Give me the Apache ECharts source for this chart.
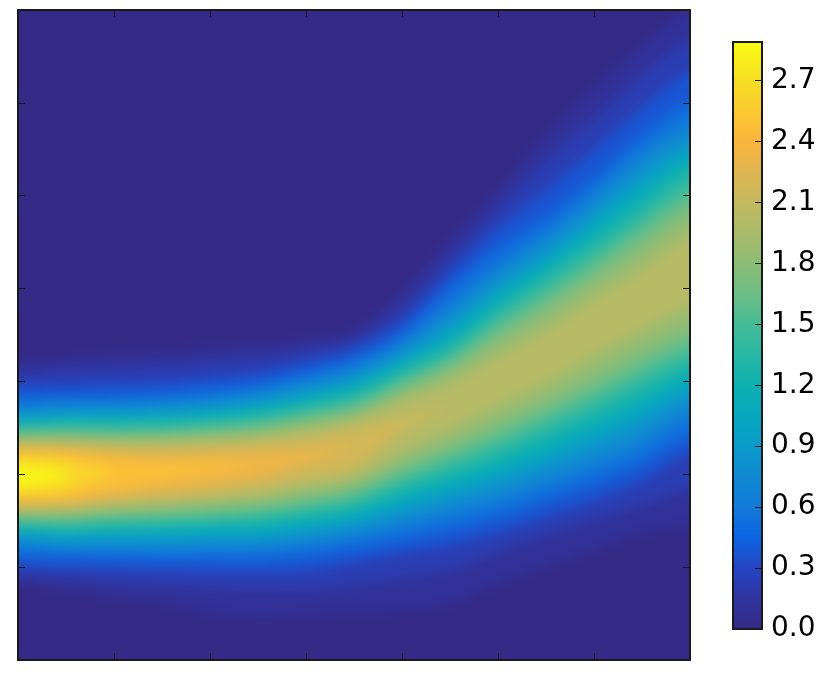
<!DOCTYPE html>
<html><head><meta charset="utf-8">
<style>
html,body{margin:0;padding:0;background:#fff}
#c{position:absolute;left:0;top:0;width:831px;height:680px}
#fieldClip{position:absolute;left:18px;top:10px;width:672px;height:650px;overflow:hidden}
#field{position:absolute;left:-60px;top:-60px;width:792px;height:770px;filter:blur(6px)}
</style>
<script src="https://cdn.jsdelivr.net/npm/echarts@6/dist/echarts.min.js"></script>
</head><body>
<div id="fieldClip"><div id="field"></div></div>
<div id="c"></div>
<script>
// contour levels of the plotted field
const levels = [0.07,0.15,0.3,0.45,0.6,0.75,0.9,1.05,1.2,1.35,1.5,1.65,1.8,1.95,2.1,2.25,2.4,2.55,2.7,2.8];
const columnsX = [0,48,96,144,192,240,288,336,384,432,480,528,576,624,672];
const _ = null;
// upper edge of each level's region, one row per column
const upperEdge = [
[352,364,376,387,395,400,405,409,413,417,420,424,427,430,434,438,442,446,451,456],
[348,360,375,386,392,398,403,407,411,415,419,423,427,430,435,439,443,449,457,465],
[345,358,374,385,392,397,403,407,411,416,420,424,428,432,437,442,448,463,_,_],
[342,356,372,383,390,396,401,406,410,415,419,423,428,432,438,444,453,_,_,_],
[339,352,368,379,387,392,398,403,407,412,416,421,425,430,436,443,453,_,_,_],
[335,348,363,373,380,386,392,397,402,407,412,417,422,427,433,442,454,_,_,_],
[330,340,352,362,369,376,382,388,393,398,403,408,414,420,428,440,_,_,_,_],
[321,329,339,348,356,363,369,375,381,387,392,398,404,410,419,437,_,_,_,_],
[282,298,312,323,331,339,346,352,358,364,370,376,383,391,408,_,_,_,_,_],
[230,248,263,278,293,305,315,325,333,340,347,354,362,373,396,_,_,_,_,_],
[180,198,218,238,254,266,276,285,295,303,312,322,333,347,_,_,_,_,_,_],
[125,150,180,207,221,233,244,254,261,271,281,292,304,320,_,_,_,_,_,_],
[78,108,140,168,182,194,206,216,227,238,249,260,273,289,_,_,_,_,_,_],
[35,65,98,125,140,154,167,179,190,203,214,226,241,259,_,_,_,_,_,_],
[0,30,62,92,110,125,137,147,156,168,181,194,209,227,_,_,_,_,_,_]
];
// lower edge of each level's region
const lowerEdge = [
[573,566,556,547,537,532,527,523,519,515,512,508,505,502,498,494,490,486,481,476],
[580,568,558,548,541,535,530,526,521,517,513,509,505,501,497,493,488,482,473,465],
[587,572,559,549,541,535,529,524,520,515,510,506,501,497,492,486,479,463,_,_],
[593,575,560,550,542,536,529,524,519,514,509,504,499,494,488,481,471,_,_,_],
[602,578,561,550,541,535,528,522,517,512,507,501,496,490,484,476,463,_,_,_],
[607,580,562,550,541,534,527,521,515,509,504,498,492,486,478,468,454,_,_,_],
[604,580,560,546,537,529,522,515,509,503,497,491,484,477,468,453,_,_,_,_],
[601,575,552,539,529,521,514,507,501,494,488,481,475,467,458,437,_,_,_,_],
[600,568,543,530,519,509,500,492,484,476,469,461,452,442,420,_,_,_,_,_],
[593,560,535,519,507,496,486,477,468,460,451,442,432,419,396,_,_,_,_,_],
[573,542,522,507,494,482,471,462,452,442,432,422,410,395,_,_,_,_,_,_],
[556,525,506,490,477,464,453,443,431,421,411,400,388,372,_,_,_,_,_,_],
[540,510,490,473,459,446,433,422,411,399,388,377,363,345,_,_,_,_,_,_],
[522,495,470,453,438,424,411,399,388,375,364,352,337,319,_,_,_,_,_,_],
[515,480,443,426,408,396,384,373,364,353,342,330,316,297,_,_,_,_,_,_]
];
const paletteValues = [0,0.15,0.3,0.45,0.6,0.75,0.9,1.05,1.2,1.35,1.5,1.65,1.8,1.95,2.1,2.25,2.4,2.55,2.7,2.85,2.89];
const palette = ['#352a87','#30349f','#2645c4','#0b64e2','#1379d8','#1089d2','#0b9bca','#07a7be','#0db0b0','#28b7a4','#44bc97','#6dbd85','#8bbd75','#a9bb6a','#c4b95f','#deb551','#fbb43d','#fbca30','#f6de24','#f8f515','#f9fb0e'];
const colorbarMax = 2.89;
const colorbarTicks = ['0.0','0.3','0.6','0.9','1.2','1.5','1.8','2.1','2.4','2.7'];

function colorAt(v){
  let i = 0;
  while(i < paletteValues.length-2 && v > paletteValues[i+1]) i++;
  const t = (v-paletteValues[i])/(paletteValues[i+1]-paletteValues[i]);
  return echarts.color.lerp(Math.min(1,t), [palette[i], palette[i+1]]);
}

// the filled field, softened by the CSS blur on its own canvas
const fieldChart = echarts.init(document.getElementById('field'), null, {renderer:'canvas'});
fieldChart.setOption({
  animation:false,
  backgroundColor:'#352a87',
  grid:{left:60,top:60,width:672,height:650,borderWidth:0},
  xAxis:{type:'value',min:0,max:672,show:false},
  yAxis:{type:'value',min:0,max:650,inverse:true,show:false},
  series:[{type:'custom',clip:false,silent:true,
    data:levels.map((l,i)=>[i,l]),
    renderItem(params,api){
      const i = api.value(0);
      const top=[],bot=[];
      columnsX.forEach((x,c)=>{
        if(upperEdge[c][i]===null) return;
        top.push(api.coord([x,upperEdge[c][i]]));
        bot.push(api.coord([x,lowerEdge[c][i]]));
      });
      // carry the first and last columns beyond the frame, so the clip cuts them straight
      const valid = columnsX.filter((x,c)=>upperEdge[c][i]!==null);
      if(valid[0]===columnsX[0]){
        top.unshift(api.coord([-48,upperEdge[0][i]]));
        bot.unshift(api.coord([-48,lowerEdge[0][i]]));
      }
      if(valid[valid.length-1]===columnsX[columnsX.length-1]){
        const n=columnsX.length-1;
        top.push(api.coord([720,upperEdge[n][i]]));
        bot.push(api.coord([720,lowerEdge[n][i]]));
      }
      const next = i+1<levels.length?levels[i+1]:2.89;
      return {type:'polygon',shape:{points:top.concat(bot.reverse()),smooth:0.3},
        style:{fill:colorAt((levels[i]+next)/2)}};
    }}]
});

const lineOpt = {show:true,onZero:false,lineStyle:{color:'#1a1a1a',width:2}};
const tickOpt = {show:true,inside:true,length:7,lineStyle:{color:'#1a1a1a',width:1}};
const noTick = {show:false};
const chart = echarts.init(document.getElementById('c'), null, {renderer:'canvas'});
chart.setOption({
  animation:false,
  backgroundColor:'transparent',
  grid:[
    {left:18,top:10,width:672,height:650,show:false},
    {left:733,top:42,width:29,height:587,show:false}
  ],
  xAxis:[
    {gridIndex:0,type:'value',min:0,max:672,interval:96,position:'bottom',axisLine:lineOpt,axisTick:tickOpt,axisLabel:{show:false},splitLine:{show:false}},
    {gridIndex:0,type:'value',min:0,max:672,interval:96,position:'top',axisLine:lineOpt,axisTick:tickOpt,axisLabel:{show:false},splitLine:{show:false}},
    {gridIndex:1,type:'value',min:0,max:1,position:'bottom',z:5,axisLine:lineOpt,axisTick:noTick,axisLabel:{show:false},splitLine:{show:false}},
    {gridIndex:1,type:'value',min:0,max:1,position:'top',z:5,axisLine:lineOpt,axisTick:noTick,axisLabel:{show:false},splitLine:{show:false}}
  ],
  yAxis:[
    {gridIndex:0,type:'value',min:0,max:650,interval:650/7,inverse:true,position:'left',axisLine:lineOpt,axisTick:tickOpt,axisLabel:{show:false},splitLine:{show:false}},
    {gridIndex:0,type:'value',min:0,max:650,interval:650/7,inverse:true,position:'right',axisLine:lineOpt,axisTick:tickOpt,axisLabel:{show:false},splitLine:{show:false}},
    {gridIndex:1,type:'value',min:0,max:colorbarMax,position:'left',z:5,axisLine:lineOpt,axisTick:noTick,axisLabel:{show:false},splitLine:{show:false}},
    {gridIndex:1,type:'value',min:0,max:colorbarMax,interval:0.3,position:'right',z:5,axisLine:lineOpt,axisTick:tickOpt,
      axisLabel:{show:true,margin:9,color:'#000',fontFamily:'DejaVu Sans',fontSize:28,showMaxLabel:false,
        formatter:(v)=>{const s=v.toFixed(1);return colorbarTicks.includes(s)?s:'';}},
      splitLine:{show:false}}
  ],
  series:[
    {type:'custom',xAxisIndex:2,yAxisIndex:2,silent:true,z:1,
      data:[[0,colorbarMax]],
      renderItem(params,api){
        const a=api.coord([0,0]), b=api.coord([1,api.value(1)]);
        const stops=paletteValues.map((v,k)=>({offset:v/colorbarMax,color:palette[k]}));
        return {type:'rect',shape:{x:a[0],y:b[1],width:b[0]-a[0],height:a[1]-b[1]},
          style:{fill:new echarts.graphic.LinearGradient(0,1,0,0,stops)}};
      }}
  ]
});
</script></body></html>
